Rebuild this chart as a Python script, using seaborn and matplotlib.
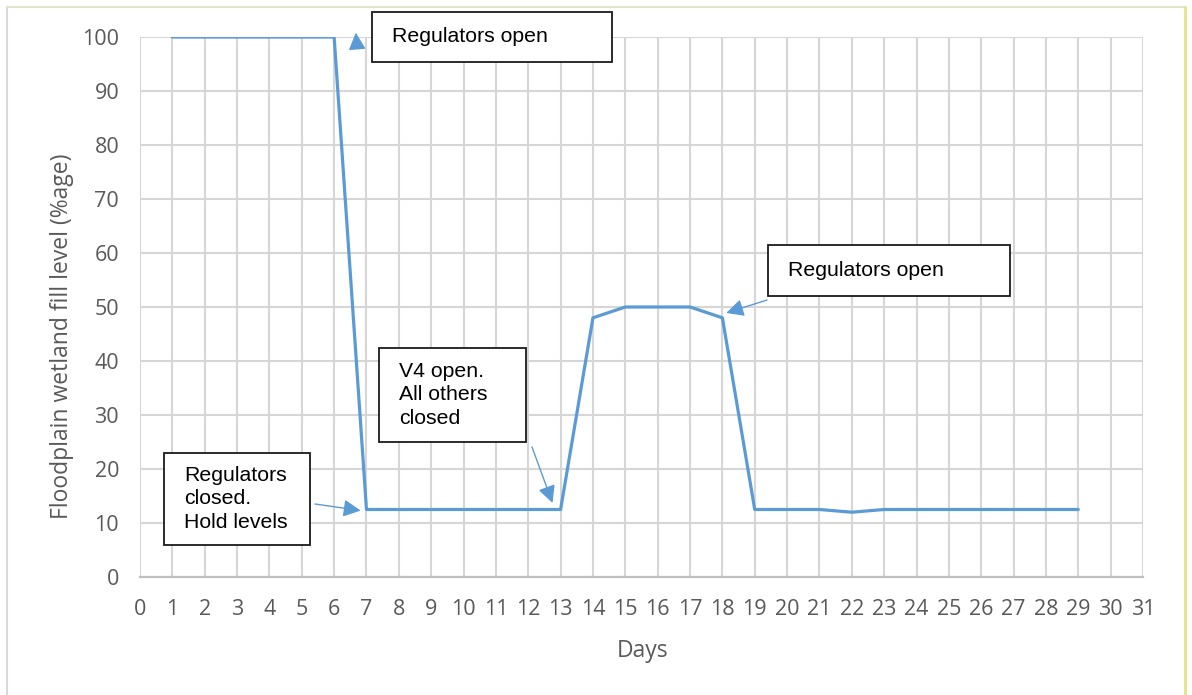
import matplotlib
matplotlib.use("Agg")
import matplotlib.pyplot as plt
from matplotlib.patches import Rectangle
from matplotlib.lines import Line2D
import numpy as np
import pandas as pd
import seaborn as sns

# Daily fill level of the floodplain wetland
days = list(range(1, 30))
fill_level = [100, 100, 100, 100, 100, 100,
              12.5, 12.5, 12.5, 12.5, 12.5, 12.5, 12.5,
              48, 50, 50, 50, 48,
              12.5, 12.5, 12.5, 12, 12.5, 12.5, 12.5, 12.5, 12.5, 12.5, 12.5]

x_ticks = list(range(0, 32))
y_ticks = list(range(0, 101, 10))

# Callout notes: text, box (left, top, width, height in px), arrow tail px, arrow target (day, level)
notes = [
    ("Regulators open", (372, 12, 240, 50), (357, 47), (6.67, 100.8)),
    ("Regulators open", (768, 245, 242, 51), (767, 300), (18.12, 48.9)),
    ("V4 open.\nAll others\nclosed", (379, 348, 147, 94), (532, 447), (12.75, 13.7)),
    ("Regulators\nclosed.\nHold levels", (164, 453, 146, 92), (315, 504), (6.82, 12.3)),
]

W, H = 1192, 695
sns.set_theme(style="whitegrid")
plt.rcParams["font.family"] = ["Open Sans", "DejaVu Sans"]

fig = plt.figure(figsize=(W / 100, H / 100), dpi=100)
ax = fig.add_axes([140 / W, 1 - 577 / H, (1143 - 140) / W, (577 - 37) / H])

df = pd.DataFrame({"Days": days, "Fill": fill_level})
sns.lineplot(data=df, x="Days", y="Fill", ax=ax, color="#5B9BD5", linewidth=2.3)

ax.set_xlim(0, 31)
ax.set_ylim(0, 100)
ax.set_xticks(x_ticks)
ax.set_yticks(y_ticks)
ax.grid(True, color="#D6D6D6", linewidth=1.5)
for side in ["top", "right", "left"]:
    ax.spines[side].set_visible(False)
ax.spines["bottom"].set_color("#BFBFBF")
ax.spines["bottom"].set_linewidth(1.6)
ax.tick_params(axis="both", length=0, labelsize=15.5, labelcolor="#595959")
ax.tick_params(axis="x", pad=16)
ax.tick_params(axis="y", pad=15)
ax.set_xlabel("Days", fontsize=16.5, color="#595959")
ax.set_ylabel("Floodplain wetland fill level (%age)", fontsize=16.5, color="#595959")
ax.xaxis.label.set_va("center")
ax.yaxis.label.set_va("center")
ax.xaxis.set_label_coords(0.5015, -0.137)
ax.yaxis.set_label_coords(-0.0775, 0.446)
ax.set_facecolor("white")

# Outer frame of the chart
fig.add_artist(Line2D([7 / W, 7 / W], [0, 1 - 7 / H], transform=fig.transFigure,
                      color="#D9D9D9", linewidth=1.5))
fig.add_artist(Line2D([7 / W, 1185 / W], [1 - 7 / H, 1 - 7 / H], transform=fig.transFigure,
                      color="#E4E4C8", linewidth=1.5))
fig.add_artist(Line2D([1185 / W, 1185 / W], [0, 1 - 7 / H], transform=fig.transFigure,
                      color="#E3E38A", linewidth=2))

for text, (bx, by, bw, bh), (tx, ty), (dx, dy) in notes:
    fig.add_artist(Rectangle((bx / W, 1 - (by + bh) / H), bw / W, bh / H,
                             transform=fig.transFigure, facecolor="white",
                             edgecolor="#1A1A1A", linewidth=1.3, zorder=5))
    fig.text((bx + 20) / W, 1 - (by + bh / 2) / H, text, ha="left", va="center",
             fontsize=15.3, family=["Liberation Sans", "DejaVu Sans"], color="black",
             linespacing=1.32, zorder=6)
    ax.annotate("", xy=(dx, dy), xycoords="data",
                xytext=(tx, H - ty), textcoords="figure pixels",
                arrowprops=dict(arrowstyle="-|>,head_length=0.7,head_width=0.35",
                                mutation_scale=15, color="#5B9BD5", linewidth=1.0,
                                shrinkA=0, shrinkB=0),
                zorder=7, annotation_clip=False)

fig.savefig("out.png", dpi=100, facecolor="white")
